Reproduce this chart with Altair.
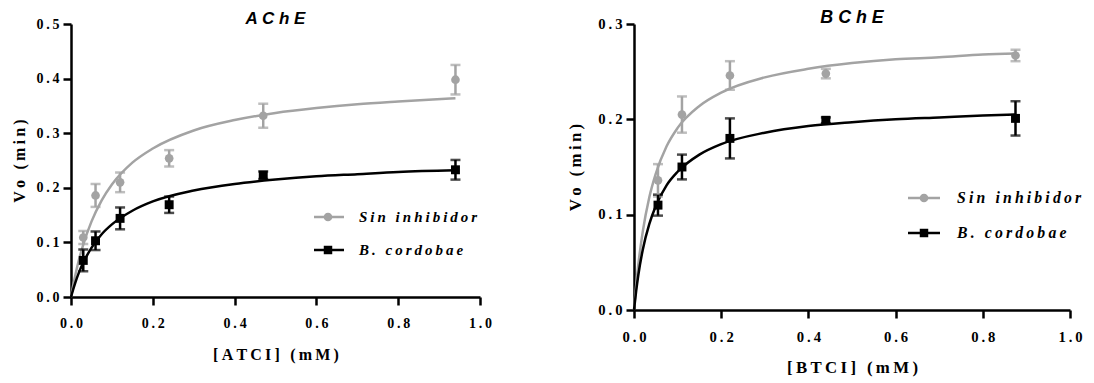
import altair as alt
import pandas as pd

# ---------------- data ----------------
SERIES = ["Sin inhibidor", "B. cordobae"]
COLORS = ["#a3a3a3", "#000000"]
SHAPES = ["circle", "square"]

# AChE panel
ache_x = [0.03, 0.06, 0.12, 0.24, 0.47, 0.94]
ache_sin = [0.109, 0.186, 0.210, 0.254, 0.332, 0.398]
ache_sin_err = [0.012, 0.021, 0.018, 0.015, 0.022, 0.027]
ache_bc = [0.067, 0.103, 0.144, 0.169, 0.223, 0.233]
ache_bc_err = [0.020, 0.017, 0.020, 0.015, 0.007, 0.018]
ache_fit_x = [0, 0.005, 0.01, 0.02, 0.03, 0.05, 0.075, 0.1, 0.15, 0.2, 0.3, 0.4, 0.5, 0.6, 0.7, 0.8, 0.94]
ache_fit_sin = [0, 0.020, 0.038, 0.070, 0.096, 0.138, 0.177, 0.206, 0.246, 0.272, 0.305, 0.324, 0.337, 0.346, 0.353, 0.358, 0.364]
ache_fit_bc = [0, 0.013, 0.025, 0.046, 0.063, 0.090, 0.115, 0.133, 0.158, 0.175, 0.195, 0.207, 0.215, 0.221, 0.225, 0.229, 0.232]

# BChE panel
bche_x = [0.055, 0.11, 0.22, 0.44, 0.875]
bche_sin = [0.136, 0.205, 0.246, 0.248, 0.267]
bche_sin_err = [0.017, 0.019, 0.015, 0.005, 0.006]
bche_bc = [0.110, 0.150, 0.180, 0.199, 0.201]
bche_bc_err = [0.011, 0.013, 0.021, 0.003, 0.018]
bche_fit_x = [0, 0.0025, 0.005, 0.01, 0.02, 0.035, 0.05, 0.075, 0.1, 0.15, 0.2, 0.3, 0.4, 0.5, 0.6, 0.7, 0.8, 0.875]
bche_fit_sin = [0, 0.013, 0.026, 0.048, 0.082, 0.118, 0.143, 0.172, 0.191, 0.214, 0.228, 0.244, 0.253, 0.259, 0.263, 0.265, 0.268, 0.269]
bche_fit_bc = [0, 0.010, 0.020, 0.037, 0.063, 0.090, 0.109, 0.131, 0.145, 0.163, 0.174, 0.186, 0.193, 0.197, 0.200, 0.202, 0.204, 0.205]

x_ticks = [0.0, 0.2, 0.4, 0.6, 0.8, 1.0]

# ---------------- text helpers ----------------
THIN = "\u2009"
WORD = "\u2009 \u2009"


def spaced(s, gap=THIN, word=WORD):
    return word.join(gap.join(list(w)) for w in s.split(" "))


SERIF = "Liberation Serif"
SANS = "Liberation Sans"

tick_expr = "replace(datum.label, '.', '%s.%s')" % (THIN, THIN)


def axis_style(k):
    return dict(grid=False, domainColor="black", domainWidth=2.5,
                tickColor="black", tickWidth=2.5, tickSize=8,
                labelFont=SERIF, labelFontWeight="bold", labelFontSize=14 * k,
                labelColor="black", titleFont=SERIF, titleFontWeight="bold",
                titleFontSize=16 * k, titleColor="black")


def panel(title, xs, ys, yerrs, fit_x, fit_ys, xtitle, ymax, yvals,
          w, h, ytp, leg_line, leg_rows, leg_text_x, k, tdy):
    pts = []
    for s, yv, ev in zip(SERIES, ys, yerrs):
        for xv, v, e in zip(xs, yv, ev):
            pts.append({"x": xv, "y": v, "lo": v - e, "hi": v + e, "series": s})
    pts = pd.DataFrame(pts)
    fit = []
    for s, fy in zip(SERIES, fit_ys):
        for xv, v in zip(fit_x, fy):
            fit.append({"x": xv, "y": v, "series": s})
    fit = pd.DataFrame(fit)

    xaxis = alt.Axis(values=x_ticks, format=".1f", labelExpr=tick_expr,
                     title=spaced(xtitle), labelFlush=False, labelPadding=11,
                     titlePadding=16, **axis_style(k))
    xenc = alt.X("x:Q", scale=alt.Scale(domain=[0, 1], nice=False, zero=True),
                 axis=xaxis)
    yscale = alt.Scale(domain=[0, ymax], nice=False)
    yaxis = alt.Axis(values=yvals, format=".1f", labelExpr=tick_expr,
                     title=spaced("Vo (min)"), titlePadding=ytp,
                     labelPadding=4, **axis_style(k))
    cscale = alt.Scale(domain=SERIES, range=COLORS)
    color = alt.Color("series:N", scale=cscale, legend=None)

    layers = []
    layers.append(alt.Chart(fit).mark_line(strokeWidth=2.5, interpolate="monotone").encode(
        x=xenc, y=alt.Y("y:Q", scale=yscale, axis=yaxis), color=color))
    layers.append(alt.Chart(pts).mark_errorbar(ticks=True, size=10, thickness=2.5).encode(
        x=xenc, y=alt.Y("lo:Q", scale=yscale, axis=yaxis), y2="hi:Q", color=color))
    for s, shp, sz in zip(SERIES, SHAPES, [75, 80]):
        layers.append(alt.Chart(pts).transform_filter(alt.datum.series == s).mark_point(
            shape=shp, filled=True, size=sz, opacity=1).encode(
            x=xenc, y=alt.Y("y:Q", scale=yscale, axis=yaxis), color=color))

    # legend (drawn as guide marks inside the plot area)
    leg_df = pd.DataFrame({"series": SERIES, "label": [spaced(s) for s in SERIES]})
    lx0, lx1, lxc = leg_line
    for i, (s, c, shp, yy) in enumerate(zip(SERIES, COLORS, SHAPES, leg_rows)):
        base = alt.Chart(leg_df).transform_filter(alt.datum.series == s)
        layers.append(base.mark_rule(strokeWidth=2.5, color=c).encode(
            x=alt.value(lx0), x2=alt.value(lx1), y=alt.value(yy)))
        layers.append(base.mark_point(shape=shp, filled=True, opacity=1, color=c,
                                      size=75 if i == 0 else 72).encode(
            x=alt.value(lxc), y=alt.value(yy)))
        layers.append(base.mark_text(align="left", baseline="middle", font=SERIF,
                                     fontStyle="italic", fontWeight="bold",
                                     fontSize=15 * k, color="black").encode(
            x=alt.value(leg_text_x), y=alt.value(yy), text="label:N"))

    return alt.layer(*layers).properties(
        width=w, height=h,
        title=alt.TitleParams(text=spaced(title, " ", "  "), font=SANS, fontStyle="italic",
                              fontWeight="bold", fontSize=17 * k, color="black",
                              anchor="middle", offset=0, dy=tdy),
    )


left = panel("AChE", ache_x, [ache_sin, ache_bc], [ache_sin_err, ache_bc_err],
             ache_fit_x, [ache_fit_sin, ache_fit_bc], "[ATCI] (mM)", 0.5,
             [0.0, 0.1, 0.2, 0.3, 0.4, 0.5], 409, 273, 8,
             (243, 273, 257), (193, 226), 288, 1.0, 11)
right = panel("BChE", bche_x, [bche_sin, bche_bc], [bche_sin_err, bche_bc_err],
              bche_fit_x, [bche_fit_sin, bche_fit_bc], "[BTCI] (mM)", 0.3,
              [0.0, 0.1, 0.2, 0.3], 436, 286, 13,
              (274, 306, 290), (174, 209), 323, 1.05, 11)

chart = alt.hconcat(left, right, spacing=75).properties(
    padding={"left": 3, "top": 1, "right": 0, "bottom": 0}
).configure_view(stroke=None)

chart.save("out.html", embed_options={"renderer": "svg", "actions": False})
